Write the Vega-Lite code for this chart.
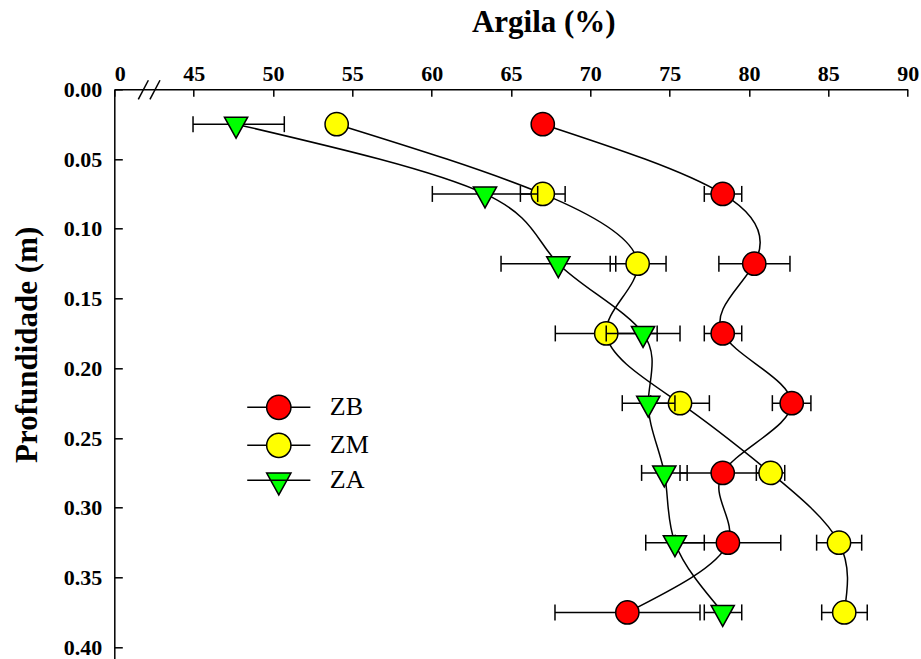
{
  "$schema": "https://vega.github.io/schema/vega-lite/v6.json",
  "width": 793.4,
  "height": 569.7,
  "autosize": {"type": "none"},
  "padding": {"left": 114.3, "top": 89.3, "right": 13.3, "bottom": 0},
  "background": "white",
  "config": {
    "view": {"stroke": null},
    "axis": {
      "grid": false,
      "labelFont": "Liberation Serif",
      "labelFontSize": 22,
      "labelFontWeight": "bold",
      "labelColor": "black",
      "titleFont": "Liberation Serif",
      "titleFontSize": 31,
      "titleFontWeight": "bold",
      "titleColor": "black",
      "domainColor": "black",
      "domainWidth": 1.5,
      "tickColor": "black",
      "tickWidth": 1.5,
      "labelFlush": false,
      "labelOverlap": false
    }
  },
  "datasets": {
    "pts": [
      {"zona": "ZB", "prof": 0.025, "arg": 67.0, "lo": null, "hi": null},
      {"zona": "ZB", "prof": 0.075, "arg": 78.34, "lo": 77.18, "hi": 79.54},
      {"zona": "ZB", "prof": 0.125, "arg": 80.33, "lo": 78.1, "hi": 82.58},
      {"zona": "ZB", "prof": 0.175, "arg": 78.34, "lo": 77.18, "hi": 79.54},
      {"zona": "ZB", "prof": 0.225, "arg": 82.69, "lo": 81.47, "hi": 83.9},
      {"zona": "ZB", "prof": 0.275, "arg": 78.34, "lo": 75.65, "hi": 81.03},
      {"zona": "ZB", "prof": 0.325, "arg": 78.67, "lo": 75.35, "hi": 82.0},
      {"zona": "ZB", "prof": 0.375, "arg": 72.33, "lo": 67.77, "hi": 76.91},
      {"zona": "ZM", "prof": 0.025, "arg": 54.01, "lo": null, "hi": null},
      {"zona": "ZM", "prof": 0.075, "arg": 67.0, "lo": 65.59, "hi": 68.41},
      {"zona": "ZM", "prof": 0.125, "arg": 72.98, "lo": 71.25, "hi": 74.77},
      {"zona": "ZM", "prof": 0.175, "arg": 71.0, "lo": 67.79, "hi": 74.21},
      {"zona": "ZM", "prof": 0.225, "arg": 75.65, "lo": 73.8, "hi": 77.5},
      {"zona": "ZM", "prof": 0.275, "arg": 81.36, "lo": 80.46, "hi": 82.25},
      {"zona": "ZM", "prof": 0.325, "arg": 85.67, "lo": 84.26, "hi": 87.1},
      {"zona": "ZM", "prof": 0.375, "arg": 86.0, "lo": 84.58, "hi": 87.45},
      {"zona": "ZA", "prof": 0.025, "arg": 47.67, "lo": 44.62, "hi": 50.71},
      {"zona": "ZA", "prof": 0.075, "arg": 63.36, "lo": 60.04, "hi": 66.68},
      {"zona": "ZA", "prof": 0.125, "arg": 67.98, "lo": 64.37, "hi": 71.6},
      {"zona": "ZA", "prof": 0.175, "arg": 73.32, "lo": 71.0, "hi": 75.65},
      {"zona": "ZA", "prof": 0.225, "arg": 73.65, "lo": 72.01, "hi": 75.33},
      {"zona": "ZA", "prof": 0.275, "arg": 74.66, "lo": 73.23, "hi": 76.1},
      {"zona": "ZA", "prof": 0.325, "arg": 75.33, "lo": 73.49, "hi": 77.18},
      {"zona": "ZA", "prof": 0.375, "arg": 78.34, "lo": 77.18, "hi": 79.54}
    ],
    "brk": [
      {"arg": 13.6, "prof": 0.0072, "arg2": 19.3, "prof2": -0.0065},
      {"arg": 20.2, "prof": 0.0072, "arg2": 25.9, "prof2": -0.0065}
    ]
  },
  "data": {"name": "pts"},
  "encoding": {
    "x": {
      "field": "arg",
      "type": "quantitative",
      "scale": {"domain": [0, 45, 90], "range": [0, 79.4, 793.4], "nice": false, "zero": false},
      "axis": {
        "orient": "top",
        "title": "Argila (%)",
        "values": [0, 45, 50, 55, 60, 65, 70, 75, 80, 85, 90],
        "format": "d",
        "tickSize": -7,
        "labelPadding": 16,
        "labelBaseline": "alphabetic",
        "labelAlign": {"condition": {"test": "datum.value === 0", "value": "left"}, "value": "center"},
        "titleX": 429,
        "titleY": -57.6,
        "titleBaseline": "alphabetic",
        "titleAnchor": null
      }
    },
    "y": {
      "field": "prof",
      "type": "quantitative",
      "scale": {"domain": [0, 0.4084], "reverse": true, "nice": false, "zero": false},
      "axis": {
        "orient": "left",
        "title": "Profundidade (m)",
        "values": [0, 0.05, 0.1, 0.15, 0.2, 0.25, 0.3, 0.35, 0.4],
        "format": ".2f",
        "tickSize": -8,
        "labelPadding": 20.6,
        "titleX": -77.6,
        "titleY": 255,
        "titleBaseline": "alphabetic",
        "titleAngle": -90
      }
    }
  },
  "layer": [
    {
      "data": {"name": "brk"},
      "mark": {"type": "rule", "color": "black", "strokeWidth": 1.5},
      "encoding": {
        "x2": {"field": "arg2"},
        "y2": {"field": "prof2"}
      }
    },
    {
      "transform": [{"filter": "datum.zona === 'ZB'"}],
      "layer": [
        {"mark": {"type": "line", "interpolate": "natural", "color": "black", "strokeWidth": 1.5}, "encoding": {"order": {"field": "prof", "type": "quantitative"}}},
        {"mark": {"type": "rule", "color": "black", "strokeWidth": 1.5}, "encoding": {"x": {"field": "lo", "type": "quantitative"}, "x2": {"field": "hi"}}},
        {"mark": {"type": "tick", "orient": "vertical", "color": "black", "size": 16, "thickness": 1.5, "opacity": 1}, "encoding": {"x": {"field": "lo", "type": "quantitative"}}},
        {"mark": {"type": "tick", "orient": "vertical", "color": "black", "size": 16, "thickness": 1.5, "opacity": 1}, "encoding": {"x": {"field": "hi", "type": "quantitative"}}},
        {
          "mark": {"type": "point", "shape": "circle", "filled": true, "size": 540, "stroke": "black", "strokeWidth": 1.5, "opacity": 1},
          "encoding": {
            "fill": {"field": "zona", "type": "nominal", "scale": {"domain": ["ZB", "ZM", "ZA"], "range": ["#ff0000", "#ffff00", "#00ff00"]},
              "legend": {"orient": "none", "legendX": 151.5, "legendY": 305, "title": null, "labelFont": "Liberation Serif", "labelFontSize": 26, "labelColor": "black", "labelOffset": 38, "symbolSize": 590, "rowPadding": 6, "padding": 0, "symbolStrokeColor": "black", "symbolStrokeWidth": 1.5, "symbolOpacity": 1,
                "encoding": {"symbols": {"shape": {"value": {"expr": "datum.value === 'ZA' ? 'M-2.6,0L2.6,0M-1,-0.6L1,-0.6L0,1.2Z' : 'M-2.6,0L-1,0M1,0L2.6,0M1,0A1,1,0,1,1,-1,0A1,1,0,1,1,1,0Z'"}}, "stroke": {"value": "black"}, "strokeWidth": {"value": 1.5}}}}}
          }
        }
      ]
    },
    {
      "transform": [{"filter": "datum.zona === 'ZM'"}],
      "layer": [
        {"mark": {"type": "line", "interpolate": "natural", "color": "black", "strokeWidth": 1.5}, "encoding": {"order": {"field": "prof", "type": "quantitative"}}},
        {"mark": {"type": "rule", "color": "black", "strokeWidth": 1.5}, "encoding": {"x": {"field": "lo", "type": "quantitative"}, "x2": {"field": "hi"}}},
        {"mark": {"type": "tick", "orient": "vertical", "color": "black", "size": 16, "thickness": 1.5, "opacity": 1}, "encoding": {"x": {"field": "lo", "type": "quantitative"}}},
        {"mark": {"type": "tick", "orient": "vertical", "color": "black", "size": 16, "thickness": 1.5, "opacity": 1}, "encoding": {"x": {"field": "hi", "type": "quantitative"}}},
        {
          "mark": {"type": "point", "shape": "circle", "filled": true, "size": 540, "stroke": "black", "strokeWidth": 1.5, "opacity": 1},
          "encoding": {
            "fill": {"field": "zona", "type": "nominal"}
          }
        }
      ]
    },
    {
      "transform": [{"filter": "datum.zona === 'ZA'"}],
      "layer": [
        {"mark": {"type": "line", "interpolate": "natural", "color": "black", "strokeWidth": 1.5}, "encoding": {"order": {"field": "prof", "type": "quantitative"}}},
        {"mark": {"type": "rule", "color": "black", "strokeWidth": 1.5}, "encoding": {"x": {"field": "lo", "type": "quantitative"}, "x2": {"field": "hi"}}},
        {"mark": {"type": "tick", "orient": "vertical", "color": "black", "size": 16, "thickness": 1.5, "opacity": 1}, "encoding": {"x": {"field": "lo", "type": "quantitative"}}},
        {"mark": {"type": "tick", "orient": "vertical", "color": "black", "size": 16, "thickness": 1.5, "opacity": 1}, "encoding": {"x": {"field": "hi", "type": "quantitative"}}},
        {
          "mark": {"type": "point", "shape": "M-1,-0.6L1,-0.6L0,1.2Z", "filled": true, "size": 540, "stroke": "black", "strokeWidth": 1.5, "opacity": 1},
          "encoding": {
            "fill": {"field": "zona", "type": "nominal"}
          }
        }
      ]
    }
  ]
}
